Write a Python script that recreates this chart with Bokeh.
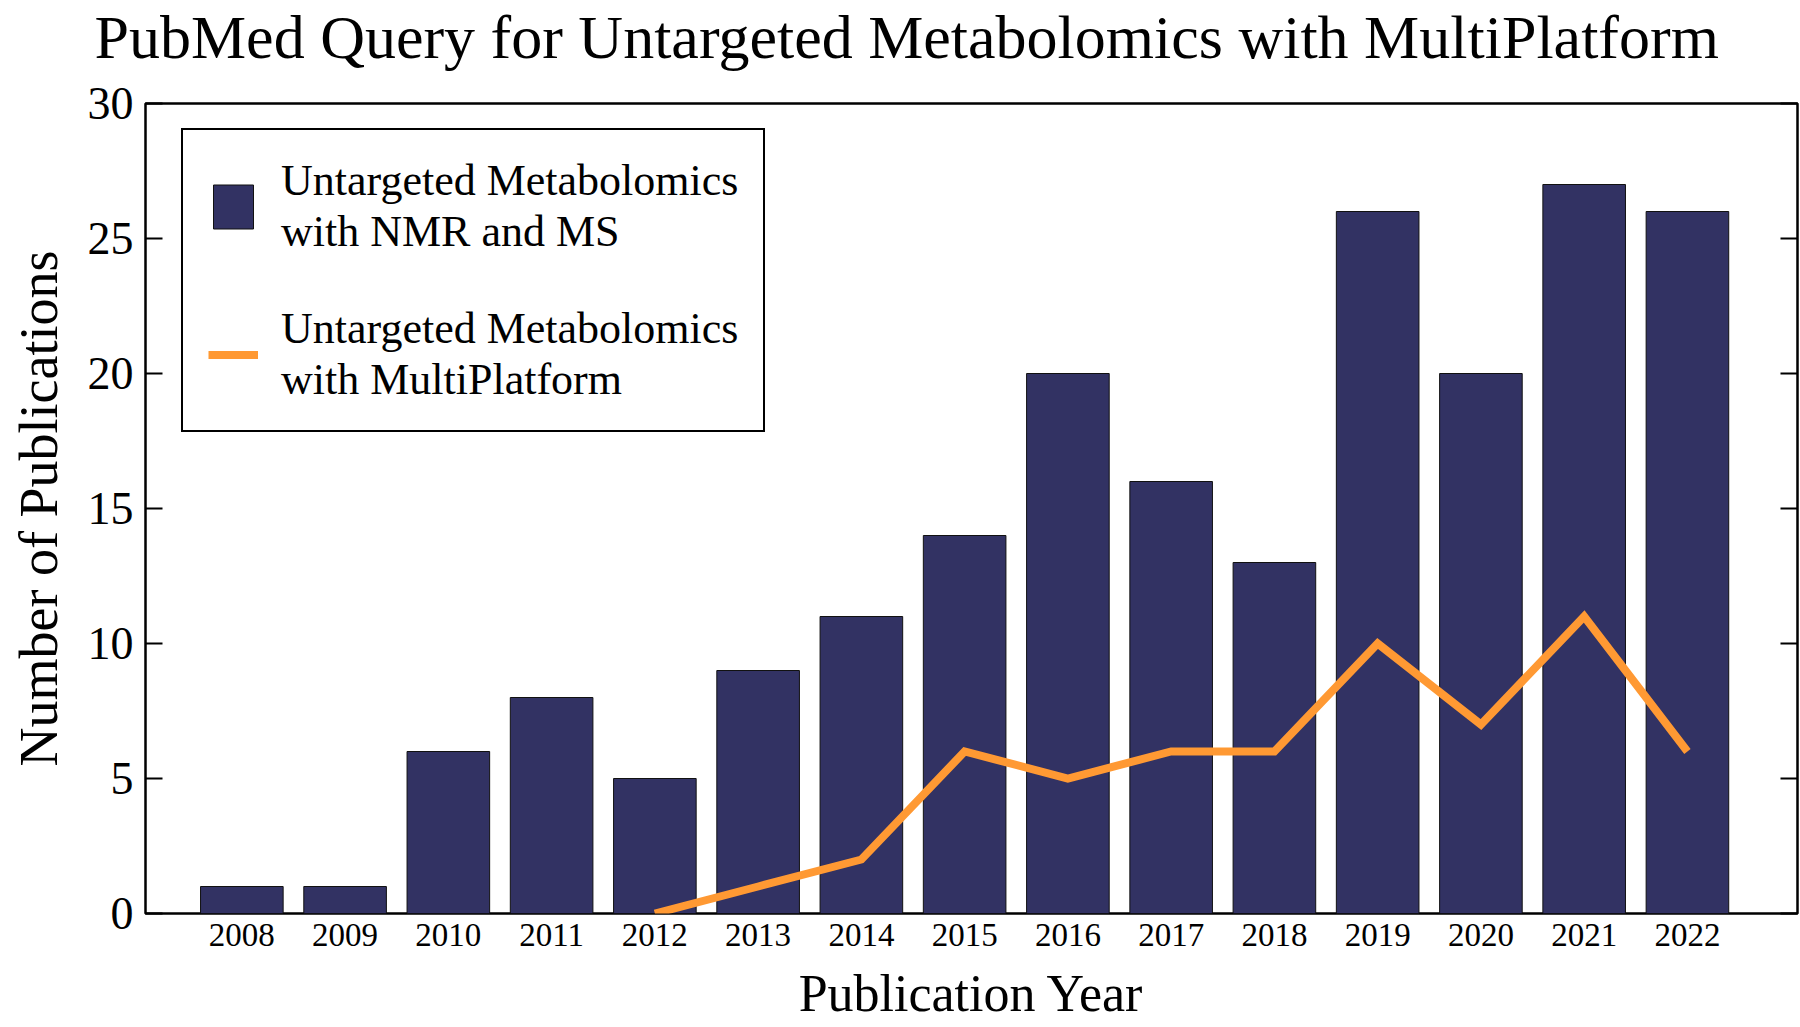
from bokeh.plotting import figure
from bokeh.models import (Range1d, LinearAxis, FixedTicker, Legend, LegendItem,
                          Title, ColumnDataSource)
from bokeh.embed import file_html
from bokeh.resources import INLINE

# ---------------- data ----------------
years = [2008, 2009, 2010, 2011, 2012, 2013, 2014, 2015,
         2016, 2017, 2018, 2019, 2020, 2021, 2022]
year_labels = ["2008", "2009", "2010", "2011", "2012", "2013", "2014", "2015",
               "2016", "2017", "2018", "2019", "2020", "2021", "2022"]
nmr_ms_counts = [1, 1, 6, 8, 5, 9, 11, 14, 20, 16, 13, 26, 20, 27, 26]

multi_years = [2012, 2013, 2014, 2015, 2016, 2017, 2018, 2019, 2020, 2021, 2022]
multi_counts = [0, 1, 2, 6, 5, 6, 6, 10, 7, 11, 6]

y_ticks = [0, 5, 10, 15, 20, 25, 30]

title_text = "PubMed Query for Untargeted Metabolomics with MultiPlatform"
x_label = "Publication Year"
y_label = "Number of Publications"
legend_labels = ["Untargeted Metabolomics\nwith NMR and MS",
                 "Untargeted Metabolomics\nwith MultiPlatform"]

FONT = "Liberation Serif"
BAR_COLOR = "#323263"
LINE_COLOR = "#FF9933"

# ---------------- figure ----------------
p = figure(width=1800, height=1027, output_backend="svg", toolbar_location=None,
           x_range=Range1d(2007.067, 2023.066), y_range=Range1d(0, 30),
           min_border_left=145, min_border_right=3, min_border_top=103,
           min_border_bottom=114,
           x_axis_label=x_label, y_axis_label=y_label)
p.grid.visible = False
p.outline_line_color = "black"
p.outline_line_width = 2.5
p.outline_line_alpha = 1.0
p.background_fill_color = "white"
p.border_fill_color = "white"

src = ColumnDataSource(data=dict(year=years, count=nmr_ms_counts))
bars = p.vbar(x="year", top="count", width=0.8, source=src,
              fill_color=BAR_COLOR, line_color="#111111", line_width=1)
line = p.line(x=multi_years, y=multi_counts, line_color=LINE_COLOR,
              line_width=8, line_join="miter")

# bottom / left axes created by figure (grab them before adding others)
xa = p.below[0]
ya = p.left[0]

# invisible spacer axis between the frame and the title (size from tick_out)
spacer = LinearAxis(ticker=FixedTicker(ticks=years), major_tick_in=0,
                    major_tick_out=33, major_tick_line_color=None,
                    minor_tick_line_color=None, axis_line_color=None,
                    major_label_text_font_size="1px",
                    major_label_text_color=None, major_label_standoff=0)
p.add_layout(spacer, "above")

title = Title(text=title_text, text_font=FONT, text_font_size="62px",
              text_font_style="normal", text_color="black",
              align="left", offset=-51, standoff=0)
p.add_layout(title, "above")

# x axis
xa.ticker = FixedTicker(ticks=years)
xa.major_label_overrides = {y: l for y, l in zip(years, year_labels)}
xa.major_tick_line_color = None
xa.minor_tick_line_color = None
xa.axis_line_color = None
xa.major_label_text_font = FONT
xa.major_label_text_font_size = "33px"
xa.major_label_text_color = "black"
xa.major_label_standoff = 4
xa.axis_label_text_font = FONT
xa.axis_label_text_font_size = "52px"
xa.axis_label_text_font_style = "normal"
xa.axis_label_text_color = "black"
xa.axis_label_standoff = 16

# y axis
ya.ticker = FixedTicker(ticks=y_ticks)
ya.major_tick_in = 17
ya.major_tick_out = 0
ya.major_tick_line_width = 2
ya.major_tick_line_color = "black"
ya.minor_tick_line_color = None
ya.axis_line_color = None
ya.major_label_text_font = FONT
ya.major_label_text_font_size = "46px"
ya.major_label_text_color = "black"
ya.major_label_standoff = 12
ya.axis_label_text_font = FONT
ya.axis_label_text_font_size = "54px"
ya.axis_label_text_font_style = "normal"
ya.axis_label_text_color = "black"
ya.axis_label_standoff = 16

# mirrored right ticks (no labels)
ra = LinearAxis(ticker=FixedTicker(ticks=y_ticks), major_tick_in=17,
                major_tick_out=0, major_tick_line_width=2,
                major_tick_line_color="black", minor_tick_line_color=None,
                axis_line_color=None, major_label_text_font_size="1px",
                major_label_text_color=None, major_label_standoff=0)
p.add_layout(ra, "right")

legend = Legend(items=[LegendItem(label=legend_labels[0], renderers=[bars]),
                       LegendItem(label=legend_labels[1], renderers=[line])],
                location=(36, 481),
                label_text_font=FONT, label_text_font_size="44px",
                label_text_color="black", label_text_line_height=1.31,
                glyph_width=50, glyph_height=55, label_standoff=23,
                padding=25, spacing=46, margin=0,
                border_line_color="black", border_line_width=2,
                border_line_alpha=1.0,
                background_fill_color="white", background_fill_alpha=1.0)
p.add_layout(legend)

open("out.html", "w").write(file_html(p, INLINE))
